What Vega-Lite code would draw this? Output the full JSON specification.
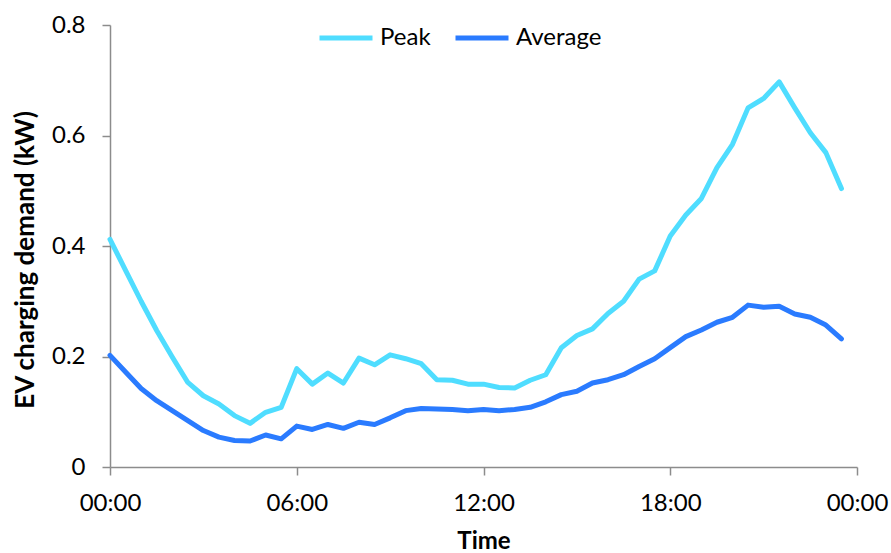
{
  "$schema": "https://vega.github.io/schema/vega-lite/v6.json",
  "autosize": {"type": "none"},
  "width": 747,
  "height": 442,
  "padding": {"left": 110, "top": 25, "right": 34, "bottom": 86},
  "background": "white",
  "config": {
    "view": {"stroke": null},
    "font": "Lato",
    "axis": {
      "grid": false,
      "domainColor": "#8c8c8c",
      "tickColor": "#8c8c8c",
      "domainWidth": 1.5,
      "tickWidth": 1.5,
      "tickSize": 8,
      "labelFont": "Lato",
      "labelFontSize": 24,
      "labelColor": "#000000",
      "titleFont": "Lato",
      "titleFontSize": 24,
      "titleFontWeight": "bold",
      "titleColor": "#000000"
    }
  },
  "data": {
    "values": [
      {"t": 0, "series": "Peak", "kW": 0.412},
      {"t": 0.5, "series": "Peak", "kW": 0.356},
      {"t": 1, "series": "Peak", "kW": 0.300},
      {"t": 1.5, "series": "Peak", "kW": 0.247},
      {"t": 2, "series": "Peak", "kW": 0.199},
      {"t": 2.5, "series": "Peak", "kW": 0.153},
      {"t": 3, "series": "Peak", "kW": 0.129},
      {"t": 3.5, "series": "Peak", "kW": 0.114},
      {"t": 4, "series": "Peak", "kW": 0.093},
      {"t": 4.5, "series": "Peak", "kW": 0.079},
      {"t": 5, "series": "Peak", "kW": 0.099},
      {"t": 5.5, "series": "Peak", "kW": 0.108},
      {"t": 6, "series": "Peak", "kW": 0.178},
      {"t": 6.5, "series": "Peak", "kW": 0.150},
      {"t": 7, "series": "Peak", "kW": 0.170},
      {"t": 7.5, "series": "Peak", "kW": 0.152},
      {"t": 8, "series": "Peak", "kW": 0.197},
      {"t": 8.5, "series": "Peak", "kW": 0.185},
      {"t": 9, "series": "Peak", "kW": 0.203},
      {"t": 9.5, "series": "Peak", "kW": 0.196},
      {"t": 10, "series": "Peak", "kW": 0.187},
      {"t": 10.5, "series": "Peak", "kW": 0.158},
      {"t": 11, "series": "Peak", "kW": 0.157},
      {"t": 11.5, "series": "Peak", "kW": 0.150},
      {"t": 12, "series": "Peak", "kW": 0.150},
      {"t": 12.5, "series": "Peak", "kW": 0.144},
      {"t": 13, "series": "Peak", "kW": 0.143},
      {"t": 13.5, "series": "Peak", "kW": 0.157},
      {"t": 14, "series": "Peak", "kW": 0.167},
      {"t": 14.5, "series": "Peak", "kW": 0.216},
      {"t": 15, "series": "Peak", "kW": 0.238},
      {"t": 15.5, "series": "Peak", "kW": 0.250},
      {"t": 16, "series": "Peak", "kW": 0.278},
      {"t": 16.5, "series": "Peak", "kW": 0.300},
      {"t": 17, "series": "Peak", "kW": 0.340},
      {"t": 17.5, "series": "Peak", "kW": 0.355},
      {"t": 18, "series": "Peak", "kW": 0.418},
      {"t": 18.5, "series": "Peak", "kW": 0.456},
      {"t": 19, "series": "Peak", "kW": 0.486},
      {"t": 19.5, "series": "Peak", "kW": 0.542},
      {"t": 20, "series": "Peak", "kW": 0.584},
      {"t": 20.5, "series": "Peak", "kW": 0.650},
      {"t": 21, "series": "Peak", "kW": 0.667},
      {"t": 21.5, "series": "Peak", "kW": 0.697},
      {"t": 22, "series": "Peak", "kW": 0.650},
      {"t": 22.5, "series": "Peak", "kW": 0.605},
      {"t": 23, "series": "Peak", "kW": 0.569},
      {"t": 23.5, "series": "Peak", "kW": 0.504},
      {"t": 0, "series": "Average", "kW": 0.202},
      {"t": 0.5, "series": "Average", "kW": 0.172},
      {"t": 1, "series": "Average", "kW": 0.142},
      {"t": 1.5, "series": "Average", "kW": 0.120},
      {"t": 2, "series": "Average", "kW": 0.102},
      {"t": 2.5, "series": "Average", "kW": 0.084},
      {"t": 3, "series": "Average", "kW": 0.066},
      {"t": 3.5, "series": "Average", "kW": 0.054},
      {"t": 4, "series": "Average", "kW": 0.048},
      {"t": 4.5, "series": "Average", "kW": 0.047},
      {"t": 5, "series": "Average", "kW": 0.058},
      {"t": 5.5, "series": "Average", "kW": 0.051},
      {"t": 6, "series": "Average", "kW": 0.074},
      {"t": 6.5, "series": "Average", "kW": 0.068},
      {"t": 7, "series": "Average", "kW": 0.077},
      {"t": 7.5, "series": "Average", "kW": 0.070},
      {"t": 8, "series": "Average", "kW": 0.081},
      {"t": 8.5, "series": "Average", "kW": 0.077},
      {"t": 9, "series": "Average", "kW": 0.089},
      {"t": 9.5, "series": "Average", "kW": 0.102},
      {"t": 10, "series": "Average", "kW": 0.106},
      {"t": 10.5, "series": "Average", "kW": 0.105},
      {"t": 11, "series": "Average", "kW": 0.104},
      {"t": 11.5, "series": "Average", "kW": 0.102},
      {"t": 12, "series": "Average", "kW": 0.104},
      {"t": 12.5, "series": "Average", "kW": 0.102},
      {"t": 13, "series": "Average", "kW": 0.104},
      {"t": 13.5, "series": "Average", "kW": 0.108},
      {"t": 14, "series": "Average", "kW": 0.118},
      {"t": 14.5, "series": "Average", "kW": 0.131},
      {"t": 15, "series": "Average", "kW": 0.137},
      {"t": 15.5, "series": "Average", "kW": 0.152},
      {"t": 16, "series": "Average", "kW": 0.158},
      {"t": 16.5, "series": "Average", "kW": 0.167},
      {"t": 17, "series": "Average", "kW": 0.182},
      {"t": 17.5, "series": "Average", "kW": 0.196},
      {"t": 18, "series": "Average", "kW": 0.216},
      {"t": 18.5, "series": "Average", "kW": 0.236},
      {"t": 19, "series": "Average", "kW": 0.248},
      {"t": 19.5, "series": "Average", "kW": 0.262},
      {"t": 20, "series": "Average", "kW": 0.271},
      {"t": 20.5, "series": "Average", "kW": 0.293},
      {"t": 21, "series": "Average", "kW": 0.289},
      {"t": 21.5, "series": "Average", "kW": 0.291},
      {"t": 22, "series": "Average", "kW": 0.277},
      {"t": 22.5, "series": "Average", "kW": 0.271},
      {"t": 23, "series": "Average", "kW": 0.257},
      {"t": 23.5, "series": "Average", "kW": 0.232}
    ]
  },
  "mark": {"type": "line", "strokeWidth": 5, "strokeCap": "round", "strokeJoin": "round"},
  "encoding": {
    "x": {
      "field": "t",
      "type": "quantitative",
      "scale": {"domain": [0, 24], "nice": false, "zero": false},
      "axis": {
        "values": [0, 6, 12, 18, 24],
        "labelExpr": "datum.value == 24 ? '00:00' : (datum.value < 10 ? '0' : '') + datum.value + ':00'",
        "labelPadding": 16,
        "labelFlush": false,
        "title": "Time",
        "titleX": 373.5,
        "titleY": 81.5,
        "titleBaseline": "alphabetic",
        "titleAlign": "center"
      }
    },
    "y": {
      "field": "kW",
      "type": "quantitative",
      "scale": {"domain": [0, 0.8], "nice": false},
      "axis": {
        "values": [0, 0.2, 0.4, 0.6, 0.8],
        "labelExpr": "datum.value == 0 ? '0' : format(datum.value, '.1f')",
        "labelPadding": 17,
        "labelFlush": false,
        "title": "EV charging demand (kW)",
        "titleFontSize": 26,
        "titleX": -77,
        "titleY": 234.5,
        "titleAngle": 270,
        "titleBaseline": "alphabetic",
        "titleAlign": "center"
      }
    },
    "color": {
      "field": "series",
      "type": "nominal",
      "scale": {"domain": ["Peak", "Average"], "range": ["#4FDDFF", "#2A7BFF"]},
      "legend": {
        "title": null,
        "orient": "none",
        "direction": "horizontal",
        "legendX": 207,
        "legendY": -16,
        "padding": 0,
        "symbolType": "stroke",
        "symbolSize": 2809,
        "symbolStrokeWidth": 5,
        "labelFont": "Lato",
        "labelFontSize": 24,
        "labelColor": "#000000",
        "labelOffset": 5,
        "columnPadding": 14
      }
    }
  }
}
